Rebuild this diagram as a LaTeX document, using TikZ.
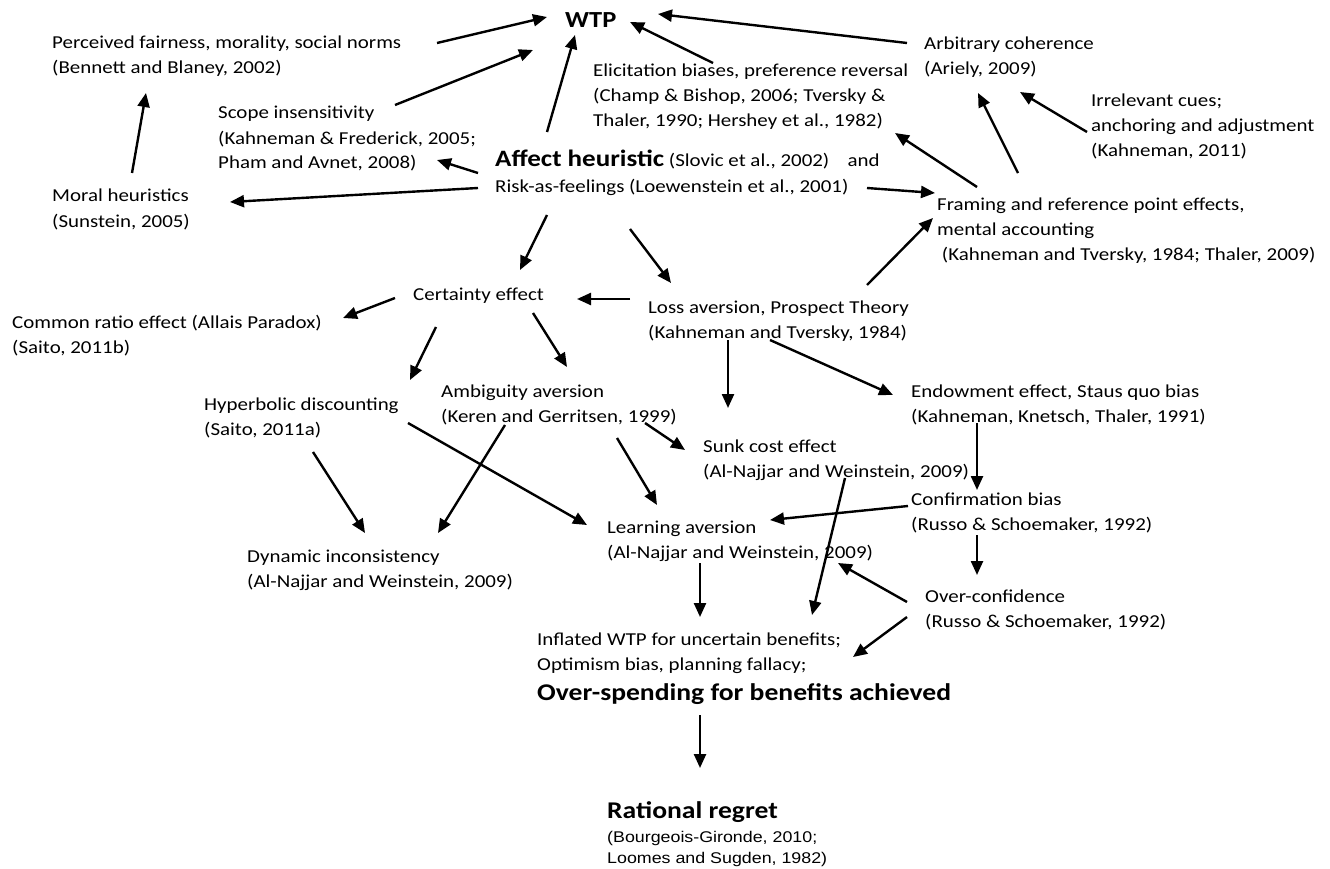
\documentclass[tikz,border=0pt]{standalone}
\usepackage{fontspec}
\setmainfont{Carlito}[FakeStretch=1.15]
\newfontfamily\arialfont{Liberation Sans}[FakeStretch=1.15]
\usetikzlibrary{arrows.meta}
\begin{document}
\begin{tikzpicture}[x=1pt,y=-1pt,
    txt/.style={anchor=base west, align=left, inner sep=0pt, font=\fontsize{18.2}{25}\selectfont},
    big/.style={txt, font=\fontsize{23}{28}\selectfont\bfseries},
    arr/.style={-{Triangle[length=14pt,width=12pt]}, line width=2.4pt}]
            \useasboundingbox (0,0) rectangle (1330,869);

            \node [big] (wtp) at (565,28) {WTP};
            \node [txt] (fair) at (52,74) {Perceived fairness, morality, social norms\\(Bennett and Blaney, 2002)};
            \node [txt] (scope) at (218,169) {Scope insensitivity\\(Kahneman \& Frederick, 2005;\\Pham and Avnet, 2008)};
            \node [txt] (moral) at (52,227) {Moral heuristics\\(Sunstein, 2005)};
            \node [txt] (affect) at (495,193) {{\fontsize{23.5}{25}\selectfont\bfseries Affect heuristic} (Slovic et al., 2002)\quad and\\[1pt]Risk-as-feelings (Loewenstein et al., 2001)};
            \node [txt] (elic) at (593,127) {Elicitation biases, preference reversal\\(Champ \& Bishop, 2006; Tversky \&\\Thaler, 1990; Hershey et al., 1982)};
            \node [txt] (arb) at (924,75) {Arbitrary coherence\\(Ariely, 2009)};
            \node [txt] (irr) at (1091,157) {Irrelevant cues;\\anchoring and adjustment\\(Kahneman, 2011)};
            \node [txt] (fram) at (937,260) {Framing and reference point effects,\\mental accounting\\\ (Kahneman and Tversky, 1984;\ Thaler, 2009)};
            \node [txt] (cert) at (413,300) {Certainty effect};
            \node [txt] (loss) at (648,338) {Loss aversion, Prospect Theory\\(Kahneman and Tversky, 1984)};
            \node [txt] (common) at (12,353) {Common ratio effect (Allais Paradox)\\(Saito, 2011b)};
            \node [txt] (ambig) at (441,422) {Ambiguity aversion\\(Keren and Gerritsen, 1999)};
            \node [txt] (hyper) at (204,435) {Hyperbolic discounting\\(Saito, 2011a)};
            \node [txt] (endow) at (911,422) {Endowment effect, Staus quo bias\\(Kahneman, Knetsch, Thaler, 1991)};
            \node [txt] (sunk) at (703,477) {Sunk cost effect\\(Al-Najjar and Weinstein, 2009)};
            \node [txt] (confirm) at (911,530) {Confirmation bias\\(Russo \& Schoemaker, 1992)};
            \node [txt] (learn) at (607,558) {Learning aversion\\(Al-Najjar and Weinstein, 2009)};
            \node [txt] (dyn) at (247,587) {Dynamic inconsistency\\(Al-Najjar and Weinstein, 2009)};
            \node [txt] (over) at (925,627) {Over-confidence\\(Russo \& Schoemaker, 1992)};
            \node [txt] (infl) at (537,700) {Inflated WTP for uncertain benefits;\\Optimism bias, planning fallacy;\\[5pt]{\fontsize{24}{28}\selectfont\bfseries Over-spending for benefits achieved}};
            \node [txt] (regret) at (607,863) {{\fontsize{24}{28}\selectfont\bfseries Rational regret}\\[-1pt]{\arialfont\fontsize{15.5}{21}\selectfont(Bourgeois-Gironde, 2010;}\\[-4pt]{\arialfont\fontsize{15.5}{21}\selectfont Loomes and Sugden, 1982)}};

            \draw[arr] ([shift={(80,-54)}]moral.base west) -- ([shift={(94,19)}]fair.base west);
            \draw[arr] ([shift={(-17,-5)}]affect.base west) -- ([shift={(178,-25)}]moral.base west);
            \draw[arr] ([shift={(-17,-20)}]affect.base west) -- ([shift={(219,-9)}]scope.base west);
            \draw[arr] ([shift={(385,-31)}]fair.base west) -- ([shift={(-18,-11)}]wtp.base west);
            \draw[arr] ([shift={(177,-64)}]scope.base west) -- ([shift={(-32,22)}]wtp.base west);
            \draw[arr] ([shift={(52,-61)}]affect.base west) -- ([shift={(10,7)}]wtp.base west);
            \draw[arr] ([shift={(120,-64)}]elic.base west) -- ([shift={(65,-6)}]wtp.base west);
            \draw[arr] ([shift={(-17,-32)}]arb.base west) -- ([shift={(93,-14)}]wtp.base west);

            \draw[arr] ([shift={(-4,-25)}]irr.base west) -- ([shift={(96,17)}]arb.base west);
            \draw[arr] ([shift={(81,-87)}]fram.base west) -- ([shift={(54,18)}]arb.base west);
            \draw[arr] ([shift={(40,-73)}]fram.base west) -- ([shift={(302,6)}]elic.base west);
            \draw[arr] ([shift={(372,-5)}]affect.base west) -- ([shift={(-2,-67)}]fram.base west);
            \draw[arr] ([shift={(219,-53)}]loss.base west) -- ([shift={(-4,-42)}]fram.base west);

            \draw[arr] ([shift={(52,22)}]affect.base west) -- ([shift={(107,-30)}]cert.base west);
            \draw[arr] ([shift={(135,36)}]affect.base west) -- ([shift={(23,-55)}]loss.base west);
            \draw[arr] ([shift={(-18,-39)}]loss.base west) -- ([shift={(164,-1)}]cert.base west);
            \draw[arr] ([shift={(-18,-2)}]cert.base west) -- ([shift={(331,-35)}]common.base west);
            \draw[arr] ([shift={(23,27)}]cert.base west) -- ([shift={(206,-55)}]hyper.base west);
            \draw[arr] ([shift={(120,13)}]cert.base west) -- ([shift={(126,-55)}]ambig.base west);
            \draw[arr] ([shift={(80,2)}]loss.base west) -- ([shift={(25,-69)}]sunk.base west);
            \draw[arr] ([shift={(122,2)}]loss.base west) -- ([shift={(-18,-27)}]endow.base west);

            \draw[arr] ([shift={(204,1)}]ambig.base west) -- ([shift={(-18,-27)}]sunk.base west);
            \draw[arr] ([shift={(176,16)}]ambig.base west) -- ([shift={(50,-53)}]learn.base west);
            \draw[arr] ([shift={(64,3)}]ambig.base west) -- ([shift={(191,-54)}]dyn.base west);
            \draw[arr] ([shift={(109,17)}]hyper.base west) -- ([shift={(118,-54)}]dyn.base west);
            \draw[arr] ([shift={(204,-12)}]hyper.base west) -- ([shift={(-20,-33)}]learn.base west);

            \draw[arr] ([shift={(66,1)}]endow.base west) -- ([shift={(66,-40)}]confirm.base west);
            \draw[arr] ([shift={(-3,-24)}]confirm.base west) -- ([shift={(163,-38)}]learn.base west);
            \draw[arr] ([shift={(66,5)}]confirm.base west) -- ([shift={(52,-52)}]over.base west);
            \draw[arr] ([shift={(-18,-25)}]over.base west) -- ([shift={(231,5)}]learn.base west);
            \draw[arr] ([shift={(-18,-10)}]over.base west) -- ([shift={(316,-43)}]infl.base west);
            \draw[arr] ([shift={(93,5)}]learn.base west) -- ([shift={(163,-83)}]infl.base west);
            \draw[arr] ([shift={(142,1)}]sunk.base west) -- ([shift={(275,-85)}]infl.base west);
            \draw[arr] ([shift={(163,15)}]infl.base west) -- ([shift={(93,-95)}]regret.base west);

        \end{tikzpicture}
\end{document}
